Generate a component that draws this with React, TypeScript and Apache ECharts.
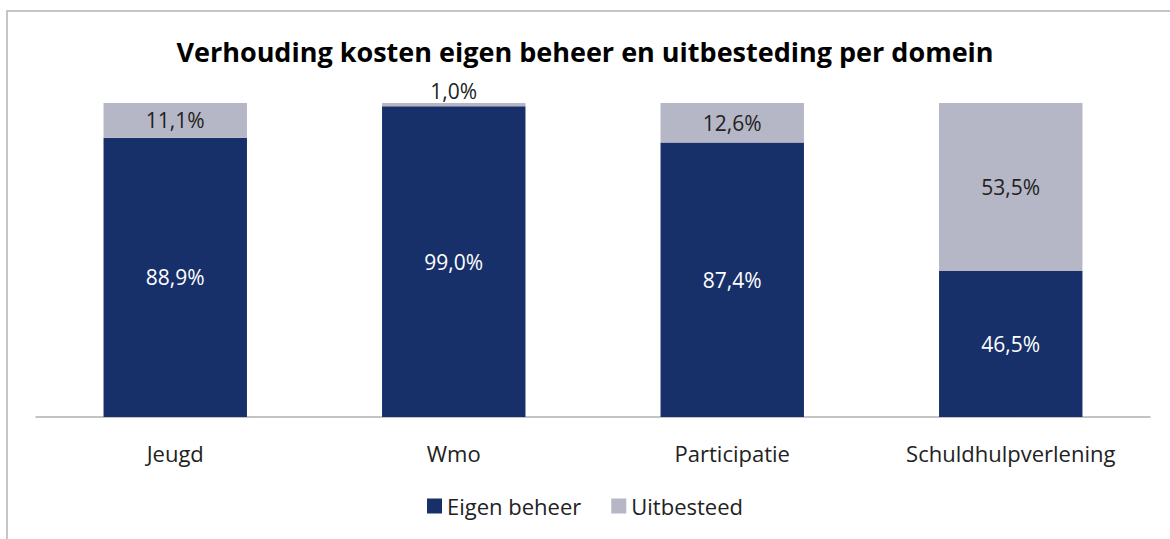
import React, { useEffect, useRef } from "react";
import * as echarts from "echarts";

const categories = ["Jeugd", "Wmo", "Participatie", "Schuldhulpverlening"];
const eigenBeheer = [88.9, 99.0, 87.4, 46.5];
const uitbesteed = [11.1, 1.0, 12.6, 53.5];
const seriesNames = ["Eigen beheer", "Uitbesteed"];
const titleText = "Verhouding kosten eigen beheer en uitbesteding per domein";

const fmt = (v: number) => v.toFixed(1).replace(".", ",") + "%";
const FONT = "'Open Sans', 'Noto Sans', sans-serif";

export default function App() {
  const ref = useRef<HTMLDivElement>(null);
  useEffect(() => {
    const chart = echarts.init(ref.current!, undefined, { renderer: "svg" });
    chart.setOption({
      animation: false,
      textStyle: { fontFamily: FONT },
      title: {
        text: titleText,
        left: "center",
        top: 33,
        textStyle: { fontSize: 27, fontWeight: "bold", color: "#000", fontFamily: FONT },
      },
      graphic: [
        {
          type: "rect",
          shape: { x: 7, y: 11, width: 1200, height: 600 },
          style: { fill: "none", stroke: "#b3b3b3", lineWidth: 1.5 },
          silent: true,
        },
      ],
      legend: {
        bottom: 17,
        left: "center",
        itemWidth: 15,
        itemHeight: 15,
        itemGap: 30,
        icon: "rect",
        textStyle: { fontSize: 22, color: "#222", fontFamily: FONT },
        data: seriesNames,
      },
      grid: { left: 36, right: 20, top: 103, bottom: 122, containLabel: false },
      xAxis: {
        type: "category",
        data: categories,
        axisLine: { lineStyle: { color: "#b0b0b0", width: 1.5 } },
        axisTick: { show: false },
        axisLabel: { fontSize: 22, color: "#222", margin: 25, fontFamily: FONT },
      },
      yAxis: {
        type: "value",
        min: 0,
        max: 100,
        show: false,
        splitLine: { show: false },
      },
      series: [
        {
          name: seriesNames[0],
          type: "bar",
          stack: "total",
          barWidth: "51.5%",
          itemStyle: { color: "#17306a" },
          label: {
            show: true,
            position: "inside",
            color: "#fff",
            fontSize: 21,
            fontFamily: FONT,
            formatter: (p: any) => fmt(p.value),
          },
          data: eigenBeheer,
        },
        {
          name: seriesNames[1],
          type: "bar",
          stack: "total",
          itemStyle: { color: "#b5b7c6" },
          label: {
            show: true,
            position: "inside",
            color: "#222",
            fontSize: 21,
            fontFamily: FONT,
            formatter: (p: any) => fmt(p.value),
          },
          data: uitbesteed.map((v) =>
            v < 5 ? { value: v, label: { position: "top", distance: 2 } } : v
          ),
        },
      ],
    });
    return () => chart.dispose();
  }, []);
  return (
    <div
      ref={ref}
      style={{ position: "absolute", left: 0, top: 0, width: 1170, height: 539 }}
    />
  );
}
